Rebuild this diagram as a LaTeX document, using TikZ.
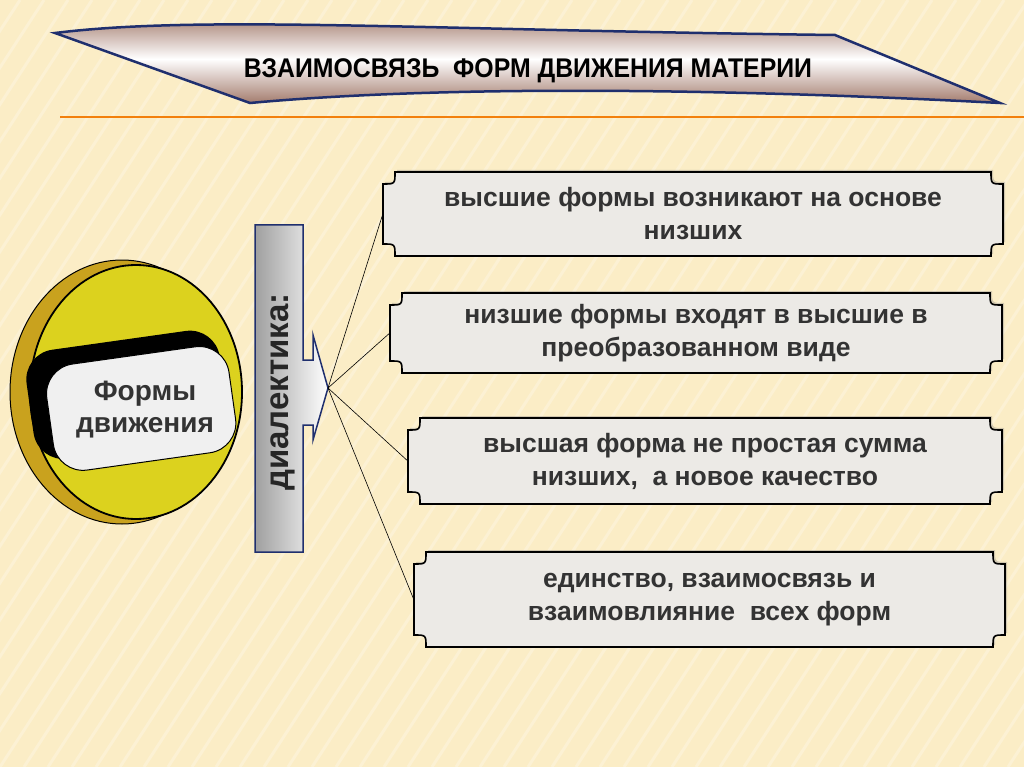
\documentclass[tikz,border=0pt]{standalone}
\usepackage{fontspec}
\setmainfont{Liberation Sans}
\usetikzlibrary{calc,shadows}
\definecolor{bg}{HTML}{FBEDC6}
\definecolor{boxfill}{HTML}{ECEAE6}
\definecolor{gold}{HTML}{C9A21E}
\definecolor{yel}{HTML}{DCD21E}
\definecolor{brn}{HTML}{A47C6E}
\definecolor{navy}{HTML}{1F2F6E}
\tikzset{
  boxtxt/.style={font=\bfseries\fontsize{26.5}{33}\selectfont, align=center, text=black!80},
  plaque/.style={draw=black, line width=1.6pt, fill=boxfill, drop shadow={shadow xshift=2pt,shadow yshift=2pt,opacity=0.35}},
  conn/.style={draw=black, line width=0.6pt}
}
\newcommand{\plaquebox}[5]{% name x1 y1 x2 y2
  \path[plaque] (#2+12,#3) -- (#4-12,#3) .. controls (#4-12,#3+12) .. (#4,#3+12)
    -- (#4,#5-12) .. controls (#4-12,#5-12) .. (#4-12,#5)
    -- (#2+12,#5) .. controls (#2+12,#5-12) .. (#2,#5-12)
    -- (#2,#3+12) .. controls (#2+12,#3+12) .. cycle;
  \node[minimum width={#4-#2}, minimum height={#5-#3}, inner sep=0] (#1) at ({(#2+#4)/2},{(#3+#5)/2}) {};
}
\begin{document}
\begin{tikzpicture}[x=1pt,y=-1pt]
\fill[bg] (0,0) rectangle (1024,767);
\useasboundingbox (0,0) rectangle (1024,767);
\begin{scope}
\clip (0,0) rectangle (1024,767);
\foreach \i in {-40,...,60} {\draw[white,opacity=0.25,line width=3pt] (\i*24,767) -- (\i*24+500,0);}
\end{scope}
% banner
\draw[navy, line width=2.5pt, top color=brn, bottom color=brn, middle color=white]
  (55,33) .. controls (200,15) and (420,30) .. (835,35)
  -- (1000,103) .. controls (850,95) and (500,80) .. (250,103) -- cycle;
\node[font=\bfseries\fontsize{27}{30}\selectfont, xscale=0.92] (title) at (528,71) {ВЗАИМОСВЯЗЬ \ ФОРМ ДВИЖЕНИЯ МАТЕРИИ};
\draw[orange!80!brown, line width=1.5pt] (60,117) -- (1024,117);
% disk
\draw[line width=1pt, fill=gold] (122,392) ellipse [x radius=112, y radius=132];
\draw[line width=1.8pt, fill=yel] (136,392) ellipse [x radius=106, y radius=127];
\begin{scope}[rotate around={8:(140,400)}]
  \fill[black, rounded corners=30pt] (30,338) rectangle (225,448);
  \draw[black, line width=1pt, fill=gray!12, rounded corners=30pt] (48,355) rectangle (232,462);
\end{scope}
\node[font=\bfseries\fontsize{28}{32}\selectfont, align=center, text=black!80] (forms) at (145,410) {Формы\\движения};
% bar with arrow
\draw[navy, line width=1.5pt, left color=gray!75, right color=white]
  (255,225) -- (303,225) -- (303,360) -- (313,360) -- (313,335) -- (328,388) -- (313,440) -- (313,425) -- (303,425) -- (303,552) -- (255,552) -- cycle;
\coordinate (tip) at (328,388);
\node[rotate=90, font=\bfseries\fontsize{33}{36}\selectfont, text=black!85] (dial) at (283,392) {диалектика:};
% boxes
\plaquebox{b1}{383}{172}{1003}{256}
\plaquebox{b2}{390}{293}{1002}{373}
\plaquebox{b3}{408}{418}{1002}{504}
\plaquebox{b4}{414}{552}{1005}{647}
\node[boxtxt] at (b1) {высшие формы возникают на основе\\низших};
\node[boxtxt] at (b2) {низшие формы входят в высшие в\\преобразованном виде};
\node[boxtxt] at (b3) {высшая форма не простая сумма\\низших, \ а новое качество};
\node[boxtxt] at (b4) {единство, взаимосвязь и\\взаимовлияние \ всех форм};
\draw[conn] (tip) -- (b1.west);
\draw[conn] (tip) -- (b2.west);
\draw[conn] (tip) -- (b3.west);
\draw[conn] (tip) -- (b4.west);
\end{tikzpicture}
\end{document}
